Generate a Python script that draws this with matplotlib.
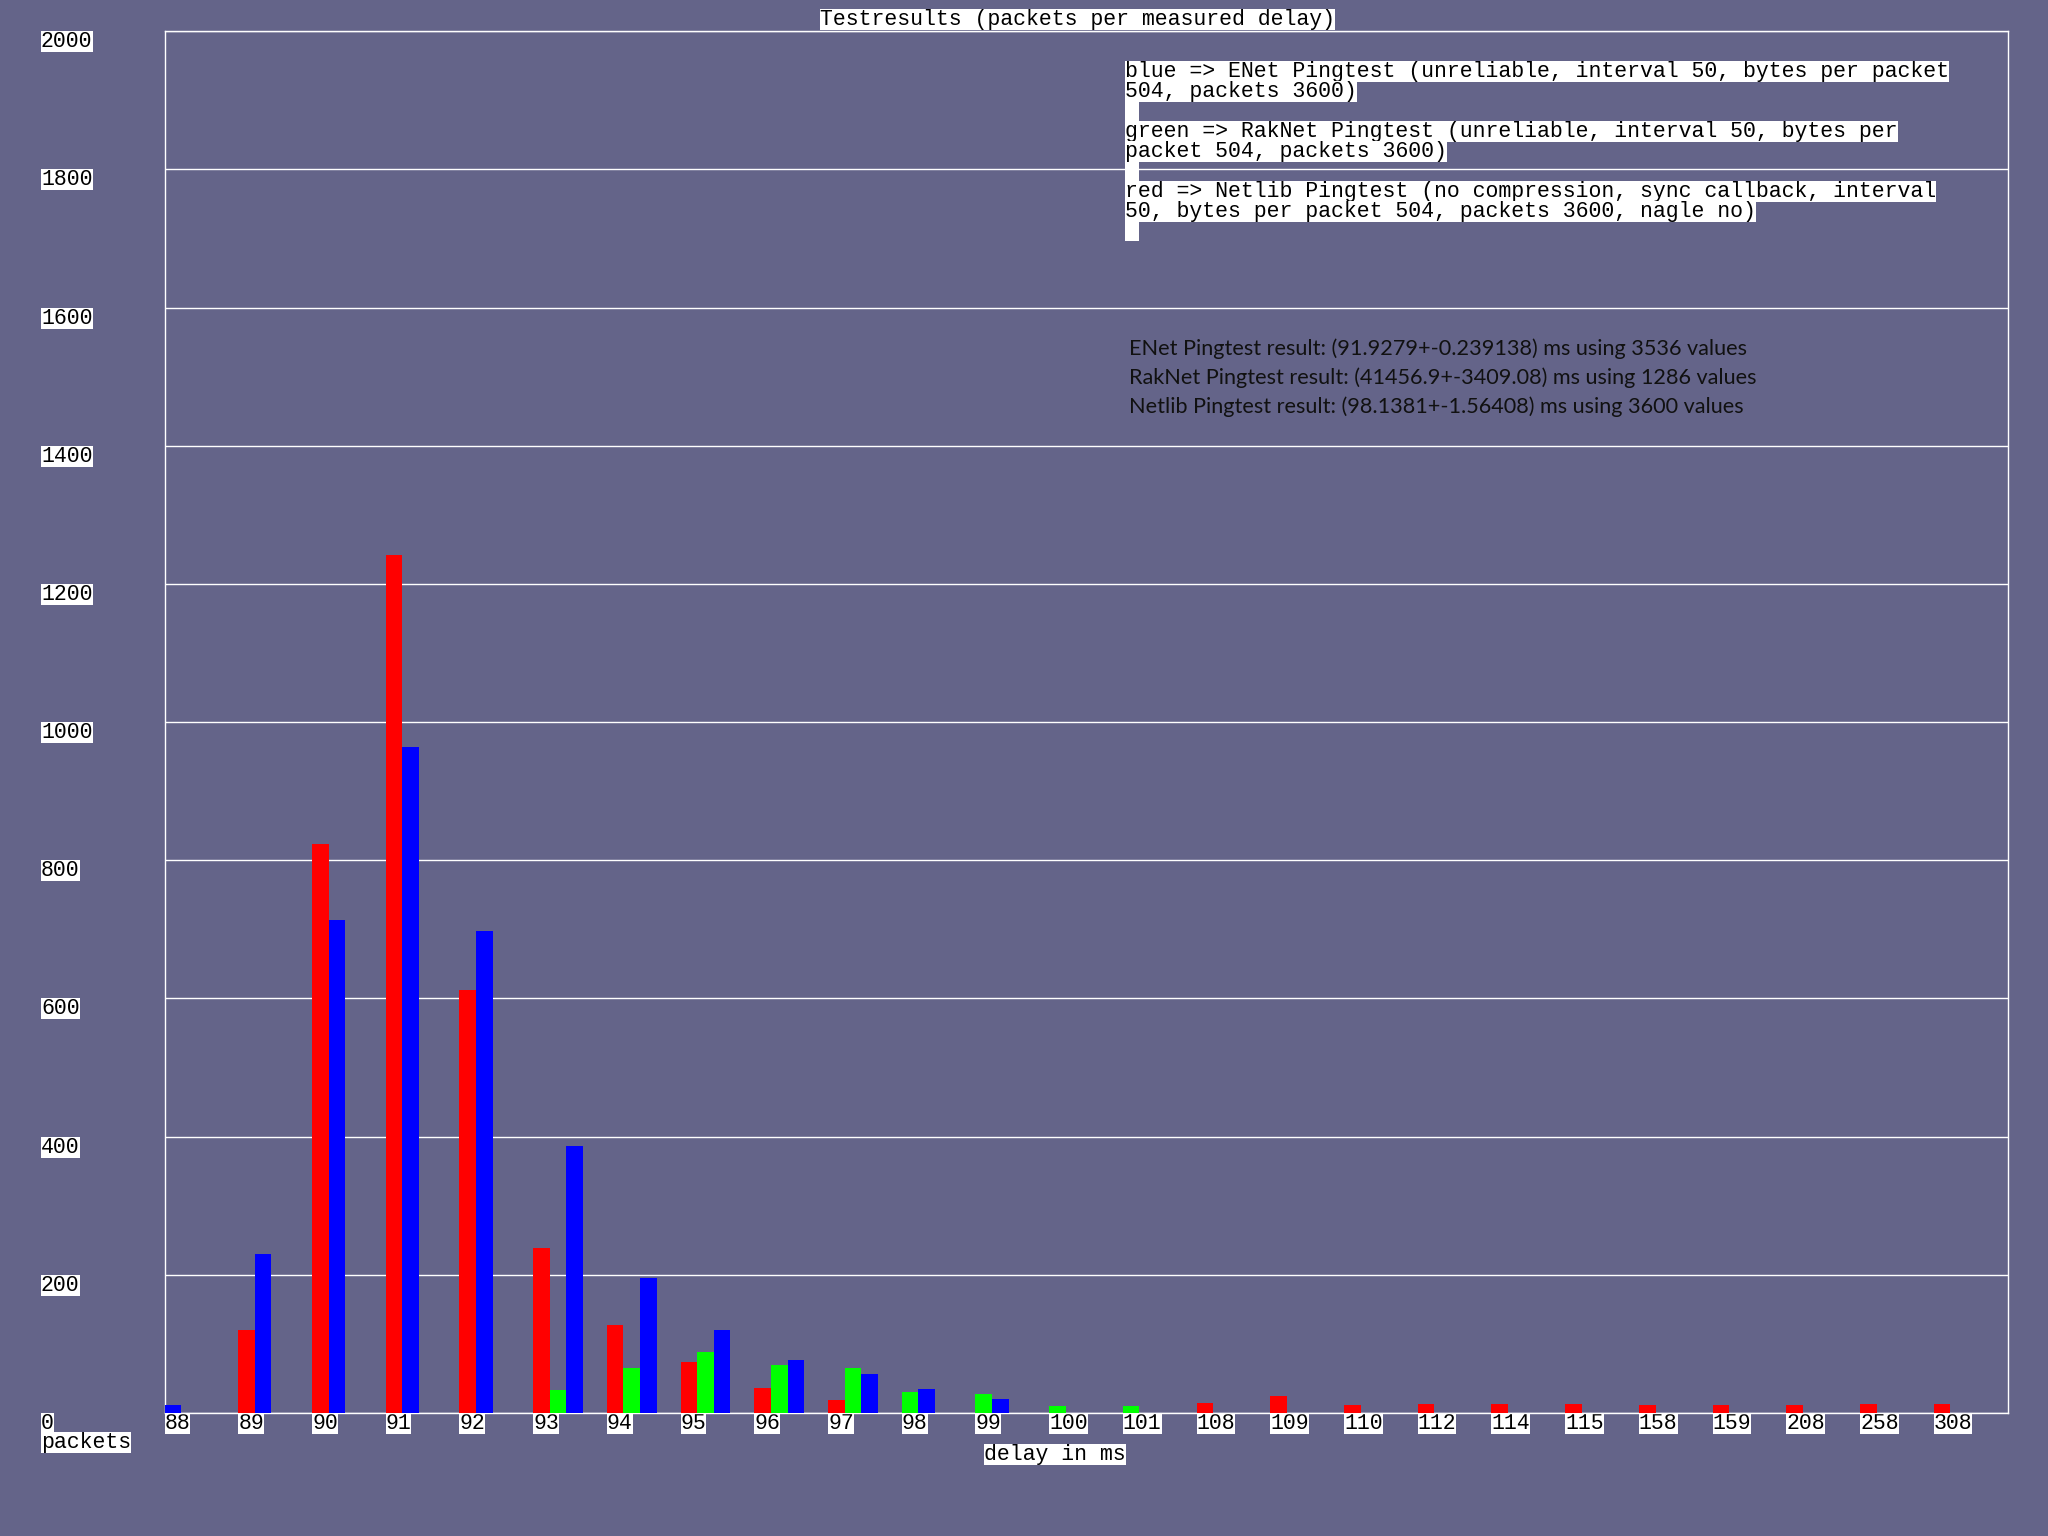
import matplotlib
matplotlib.use("Agg")
import matplotlib.pyplot as plt
from matplotlib.patches import Rectangle
import numpy as np

# ---------------- data ----------------
delays = [88, 89, 90, 91, 92, 93, 94, 95, 96, 97, 98, 99, 100, 101,
          108, 109, 110, 112, 114, 115, 158, 159, 208, 258, 308]
netlib_red = [0, 120, 824, 1242, 613, 239, 128, 74, 36, 19, 0, 0, 0, 0,
              15, 24, 11, 13, 13, 13, 11, 11, 11, 13, 13]
raknet_green = [0, 0, 0, 0, 0, 33, 65, 88, 70, 65, 30, 27, 10, 10,
                0, 0, 0, 0, 0, 0, 0, 0, 0, 0, 0]
enet_blue = [11, 230, 713, 964, 698, 387, 195, 120, 76, 56, 35, 20, 0, 0,
             0, 0, 0, 0, 0, 0, 0, 0, 0, 0, 0]
yticks = list(range(0, 2001, 200))

title = "Testresults (packets per measured delay)"
legend_lines = [
    ["blue => ENet Pingtest (unreliable, interval 50, bytes per packet",
     "504, packets 3600)"],
    ["green => RakNet Pingtest (unreliable, interval 50, bytes per",
     "packet 504, packets 3600)"],
    ["red => Netlib Pingtest (no compression, sync callback, interval",
     "50, bytes per packet 504, packets 3600, nagle no)"],
]
results = [
    "ENet Pingtest result: (91.9279+-0.239138) ms using 3536 values",
    "RakNet Pingtest result: (41456.9+-3409.08) ms using 1286 values",
    "Netlib Pingtest result: (98.1381+-1.56408) ms using 3600 values",
]

# ---------------- style ----------------
W, H = 2048, 1536
BG = "#646489"
MONO = "Liberation Mono"
FS = 15.5
box = dict(facecolor="white", edgecolor="none", pad=0)

fig = plt.figure(figsize=(W / 100, H / 100), dpi=100, facecolor=BG)
left, right, top, bottom = 164.6, 2007.5, 31.3, 1413.0
ax = fig.add_axes([left / W, 1 - bottom / H, (right - left) / W, (bottom - top) / H])
ax.set_facecolor(BG)

series = [(netlib_red, "#ff0000"), (raknet_green, "#00ff00"), (enet_blue, "#0000ff")]
bw = 0.225
for i in range(len(delays)):
    k = 0
    for vals, col in series:
        v = vals[i]
        if v > 0:
            ax.bar(i + k * bw, v, width=bw, align="edge", color=col,
                   edgecolor="none", zorder=3)
            k += 1

ax.set_xlim(0, len(delays))
ax.set_ylim(0, 2000)
ax.set_yticks(yticks)
ax.set_yticklabels([str(t) for t in yticks])
ax.set_xticks(np.arange(len(delays)))
ax.set_xticklabels([str(d) for d in delays])
ax.yaxis.grid(True, color="white", linewidth=1.0, zorder=1)
ax.set_axisbelow(True)
for s in ax.spines.values():
    s.set_color("white")
    s.set_linewidth(1.0)

ypad = (left - 41) / 100 * 72
ax.tick_params(axis="y", length=0, pad=ypad)
ax.tick_params(axis="x", length=0, pad=0)
for lbl in ax.get_yticklabels():
    lbl.set_fontfamily(MONO)
    lbl.set_fontsize(FS)
    lbl.set_horizontalalignment("left")
    lbl.set_verticalalignment("top")
    lbl.set_bbox(box)
for lbl in ax.get_xticklabels():
    lbl.set_fontfamily(MONO)
    lbl.set_fontsize(FS)
    lbl.set_horizontalalignment("left")
    lbl.set_verticalalignment("top")
    lbl.set_bbox(box)


def ftext(xpx, ypx, s, **kw):
    return fig.text(xpx / W, 1 - ypx / H, s, **kw)


# title
ftext(820, 9, title, family=MONO, fontsize=FS, ha="left", va="top", bbox=box)
# axis labels
ftext(41, 1432, "packets", family=MONO, fontsize=FS, ha="left", va="top", bbox=box)
ftext(984, 1444, "delay in ms", family=MONO, fontsize=FS, ha="left", va="top", bbox=box)

# legend
lx = 1125
fig.patches.append(Rectangle((lx / W, 1 - 241 / H), 14 / W, (241 - 61) / H,
                             transform=fig.transFigure, facecolor="white",
                             edgecolor="none", zorder=0))
for j, entry in enumerate(legend_lines):
    for n, line in enumerate(entry):
        ftext(lx, 61 + 60 * j + 20 * n, line, family=MONO, fontsize=FS,
              ha="left", va="top", bbox=box, zorder=2)

# results
for j, line in enumerate(results):
    ftext(1129, 355 + 29 * j, line, family="Lato", fontsize=15.6,
          color="#111111", ha="left", va="baseline")

fig.savefig("out.png", dpi=100, facecolor=BG)
